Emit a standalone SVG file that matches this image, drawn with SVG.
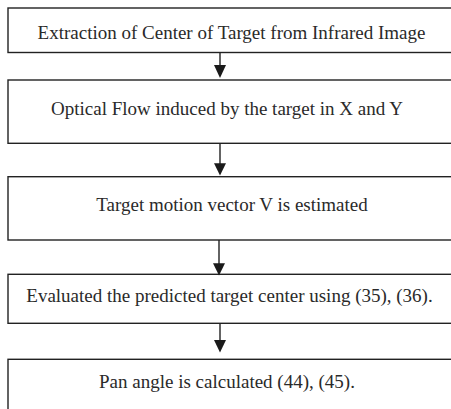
<svg xmlns="http://www.w3.org/2000/svg" width="451" height="409" viewBox="0 0 451 409">
<defs>
<style>
.box{fill:#fff;stroke:#222;stroke-width:1.4}
.lbl{font-family:"Liberation Serif","Times New Roman",serif;font-size:19px;fill:#2a2a2a;text-anchor:middle}
.conn line{stroke:#222;stroke-width:1.4}
.conn polygon{fill:#1a1a1a}
</style>
</defs>
<rect width="451" height="409" fill="#fff"/>
<g id="n1"><rect class="box" x="8" y="8" width="460" height="44.5"/><text class="lbl" x="231.5" y="39">Extraction of Center of Target from Infrared Image</text></g>
<g id="n2"><rect class="box" x="8" y="80" width="460" height="63.3"/><text class="lbl" x="227" y="115">Optical Flow induced by the target in X and Y</text></g>
<g id="n3"><rect class="box" x="8" y="176.7" width="460" height="63.3"/><text class="lbl" x="232" y="211">Target motion vector V is estimated</text></g>
<g id="n4"><rect class="box" x="8" y="274.3" width="460" height="49"/><text class="lbl" x="229.5" y="301.5">Evaluated the predicted target center using (35), (36).</text></g>
<g id="n5"><rect class="box" x="8" y="359.3" width="460" height="70"/><text class="lbl" x="227" y="388">Pan angle is calculated (44), (45).</text></g>
<g class="conn">
<line x1="220" y1="52.5" x2="220" y2="66"/><polygon points="214,65 226,65 220,78"/>
<line x1="220" y1="143.3" x2="220" y2="164"/><polygon points="214,163.3 226,163.3 220,175.5"/>
<line x1="219" y1="240" x2="219" y2="264"/><polygon points="213,263.3 225,263.3 219,275.5"/>
<line x1="220" y1="323.3" x2="220" y2="341"/><polygon points="214,340 226,340 220,352.5"/>
</g>
</svg>
